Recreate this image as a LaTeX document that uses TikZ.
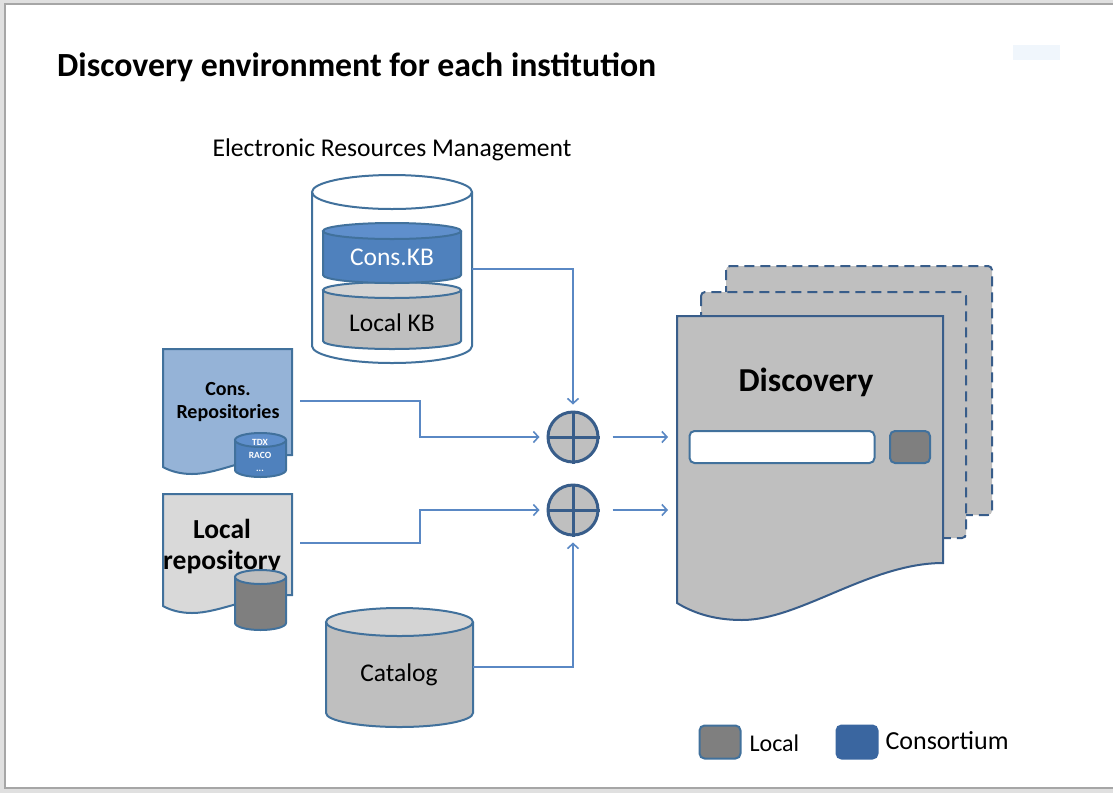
\documentclass[tikz,border=0pt]{standalone}
\usepackage{fontspec}
\setmainfont{Carlito}
\usetikzlibrary{arrows.meta}
\definecolor{edge}{HTML}{41719C}
\definecolor{dk}{HTML}{385D8A}
\definecolor{linec}{HTML}{5A88C4}
\definecolor{bluefill}{HTML}{4F81BD}
\definecolor{bluetop}{HTML}{5F8FCC}
\definecolor{lightblue}{HTML}{95B3D7}
\definecolor{grayfill}{HTML}{BFBFBF}
\definecolor{graytop}{HTML}{D4D4D4}
\definecolor{lgray}{HTML}{D9D9D9}
\definecolor{dgray}{HTML}{7F7F7F}
\definecolor{cons}{HTML}{3A66A0}
\definecolor{faint}{HTML}{F0F6FC}
\newcommand\drawcyl[7]{%
  \pgfmathsetmacro\cx{(#1+#2)/2}%
  \pgfmathsetmacro\rx{(#2-#1)/2}%
  \draw[shapeline, fill=#6] (#1,#3) -- (#1,#4) arc[start angle=180,end angle=0,x radius=\rx,y radius=#5] -- (#2,#3);
  \draw[shapeline, fill=#7] (\cx,#3) ellipse[x radius=\rx, y radius=#5];
}
\begin{document}
\begin{tikzpicture}[x=1pt,y=-1pt,
  shapeline/.style={draw=edge, line width=2},
  conn/.style={draw=linec, line width=1.6, -{Straight Barb[length=5pt,width=11pt,line width=1.6pt]}},
  anchorbox/.style={draw=none, inner sep=0, outer sep=0},
  plus/.style={circle, draw=dk, line width=3, fill=grayfill, minimum size=50, inner sep=0},
  legendbox/.style={draw=edge, line width=2, rounded corners=5, minimum width=41, minimum height=33},
  dpage/.style={draw=dk, line width=2, fill=grayfill, dashed, dash pattern=on 10pt off 6pt, rounded corners=4},
  regtext/.style={font=\fontsize{25.5}{30}\selectfont}
]
\useasboundingbox (0,0) rectangle (1113,793);
\fill[black!12] (0,0) rectangle (1113,793);
\fill[white] (5,4) rectangle (1113,788);
\draw[black!35, line width=1.5] (1113,4) -- (5,4) -- (5,788) -- (1113,788);
\fill[faint] (1013,45) rectangle (1060,60);

% title
\node[anchor=base west, font=\fontsize{33.8}{38}\selectfont\bfseries, inner sep=0] (title) at (57,76) {Discovery environment for each institution};

% ERM
\node[font=\fontsize{25.6}{30}\selectfont] (ermlabel) at (392,150) {Electronic Resources Management};
\drawcyl{312}{472}{192}{346}{17}{white}{white}
\drawcyl{323}{461}{290}{341}{8}{grayfill}{graytop}
\drawcyl{323}{461}{231}{275}{8}{bluefill}{bluetop}
\node[regtext, text=white] (conskb) at (392,257) {Cons.KB};
\node[regtext] (localkb) at (392,323) {Local KB};
\node[anchorbox, minimum width=160, minimum height=188] (erm) at (392,269) {};

% Cons. repositories
\draw[shapeline, fill=lightblue] (163,349) -- (292,349) -- (292,455)
  .. controls (250,455) and (220,474) .. (192,474)
  .. controls (180,474) and (170,471) .. (163,467) -- cycle;
\node[anchorbox, minimum width=129, minimum height=104] (crep) at (227.5,401) {};
\node[font=\fontsize{20}{23}\selectfont\bfseries, align=center] (creptext) at (228,402) {Cons.\\Repositories};
\drawcyl{235}{286}{440}{470}{7}{bluefill}{bluetop}
\node[font=\fontsize{9.5}{13}\selectfont\bfseries, text=white, align=center] (tdx) at (260,455) {TDX\\RACO\\...};

% Local repository
\draw[shapeline, fill=lgray] (163,494) -- (292,494) -- (292,595)
  .. controls (250,595) and (220,613) .. (192,613)
  .. controls (180,613) and (170,610) .. (163,606) -- cycle;
\node[anchorbox, minimum width=129, minimum height=98] (lrep) at (227.5,543) {};
\node[font=\fontsize{27.5}{31}\selectfont\bfseries, align=center] (lreptext) at (222,547) {Local\\repository};
\drawcyl{235}{286}{577}{623}{7}{dgray}{grayfill}

% Catalog
\drawcyl{326}{473}{622}{713}{14}{grayfill}{graytop}
\node[regtext] (cattext) at (399,675) {Catalog};
\node[anchorbox, minimum width=147, minimum height=119] (cat) at (399.5,667) {};

% plus nodes
\node[plus] (p1) at (573,437) {};
\draw[dk, line width=3] (p1.north) -- (p1.south) (p1.west) -- (p1.east);
\node[plus] (p2) at (573,510) {};
\draw[dk, line width=3] (p2.north) -- (p2.south) (p2.west) -- (p2.east);

% Discovery pages
\draw[dpage] (726,266) rectangle (992,515);
\draw[dpage] (701,292) rectangle (966,538);
\draw[draw=dk, line width=2, fill=grayfill] (677,316) -- (943,316) -- (943,563)
  .. controls (870,563) and (800,620) .. (742,620)
  .. controls (712,620) and (692,612) .. (677,603) -- cycle;
\node[anchorbox, minimum width=266, minimum height=287] (disc) at (810,459.5) {};
\node[font=\fontsize{33.5}{38}\selectfont\bfseries] (disctext) at (806,382) {Discovery};
\node[draw=edge, line width=2, fill=white, rounded corners=5, minimum width=185, minimum height=32] (search) at (782,447) {};
\node[draw=edge, line width=2, fill=dgray, rounded corners=5, minimum width=40, minimum height=32] (button) at (910,447) {};

% connectors
\draw[conn] (erm.east) -| ([yshift=6]p1.north);
\draw[conn] ([xshift=8]crep.east) -- ++(120,0) |- ([xshift=-7]p1.west);
\draw[conn] ([xshift=8]lrep.east) -- ++(120,0) |- ([xshift=-7]p2.west);
\draw[conn] (cat.east) -| ([yshift=-6]p2.south);
\draw[conn] ([xshift=13]p1.east) -- ([xshift=-9]p1.east -| disc.west);
\draw[conn] ([xshift=13]p2.east) -- ([xshift=-9]p2.east -| disc.west);

% legend
\node[legendbox, fill=dgray] (leglocal) at (720,742) {};
\node[anchor=west, font=\fontsize{24}{28}\selectfont] (leglocaltext) at (746,743) {Local};
\node[legendbox, fill=cons, draw=cons] (legcons) at (857,742) {};
\node[anchor=west, font=\fontsize{26}{30}\selectfont] (legconstext) at (882,741) {Consortium};
\end{tikzpicture}
\end{document}
